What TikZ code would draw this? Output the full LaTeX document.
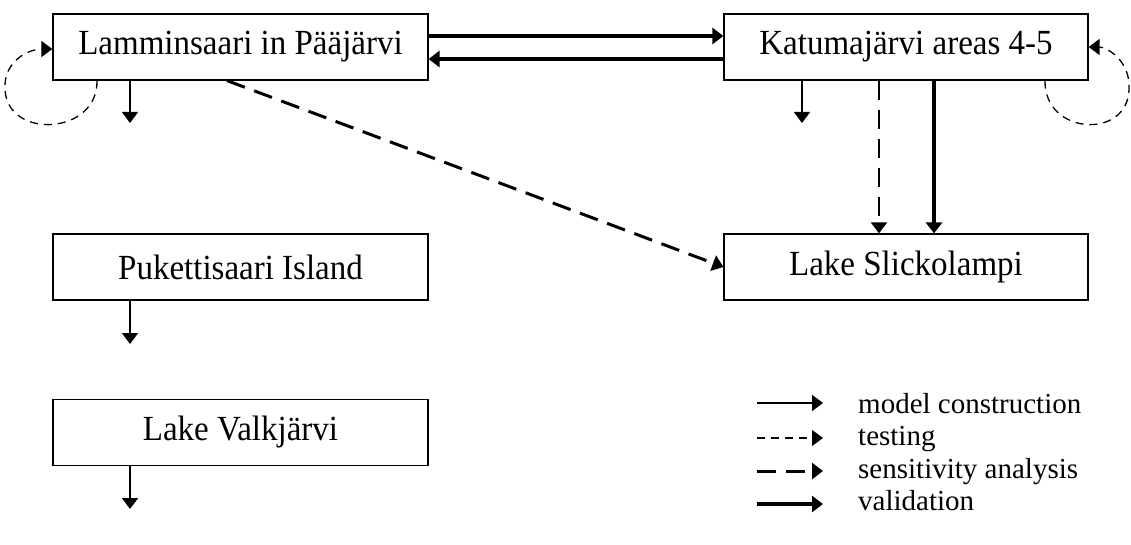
\documentclass[tikz,border=0pt]{standalone}
\usepackage{graphicx}
\usepackage{fontspec}
\setmainfont{Liberation Serif}
\usetikzlibrary{arrows.meta}
\newcommand{\tallt}[1]{\scalebox{1}[1.07]{#1}}
\begin{document}
\begin{tikzpicture}[x=1pt,y=-1pt,
  box/.style={draw,line width=1.2pt,inner sep=0pt,minimum height=66pt,font=\fontsize{33}{40}\selectfont},
  tip/.style={-{Triangle[width=16pt,length=11pt]}},
  construct/.style={tip,line width=1.5pt},
  testarrow/.style={tip,line width=1.3pt,dash pattern=on 8pt off 6pt},
  sensarrow/.style={tip,line width=3pt,dash pattern=on 19pt off 10pt},
  validarrow/.style={tip,line width=3.2pt},
  legtext/.style={anchor=base west,inner sep=0pt,font=\fontsize{29}{34}\selectfont}
]
\useasboundingbox (0,0) rectangle (1131,545);
% boxes
\node[box,minimum width=375pt] (L) at (240.5,47) {\tallt{Lamminsaari in Pääjärvi}};
\node[box,minimum width=364pt] (K) at (906,47) {\tallt{Katumajärvi areas 4-5}};
\node[box,minimum width=375pt] (P) at (240.5,267) {\tallt{Pukettisaari Island}};
\node[box,minimum width=364pt] (S) at (906,267) {\tallt{Lake Slickolampi}};
\node[box,minimum width=375pt] (V) at (240.5,432.5) {\tallt{Lake Valkjärvi}};
% free ends of down arrows
\coordinate (Ld) at (130,123);
\coordinate (Kd) at (802,123);
\coordinate (Pd) at (130,344);
\coordinate (Vd) at (130,509);
\draw[construct] (L.south -| Ld) -- (Ld);
\draw[construct] (K.south -| Kd) -- (Kd);
\draw[construct] (P.south -| Pd) -- (Pd);
\draw[construct] (V.south -| Vd) -- (Vd);
% horizontal validation arrows
\draw[validarrow] (L.east |- 0,36) -- (K.west |- 0,36);
\draw[validarrow] (K.west |- 0,59) -- (L.east |- 0,59);
% K to S
\draw[sensarrow,line width=2.2pt] (K.south -| 879,0) -- (S.north -| 879,0);
\draw[validarrow] (K.south -| 934,0) -- (S.north -| 934,0);
% L to S diagonal
\draw[sensarrow] (L.south -| 227,0) -- (S.west);
% self loops
\draw[testarrow] (L.south -| 97,0) .. controls (98,135) and (8,140) .. (5,90)
   .. controls (3,60) and (30,49) .. (L.west |- 0,49);
\draw[testarrow] (K.south -| 1045,0) .. controls (1044,135) and (1127,140) .. (1129,90)
   .. controls (1131,60) and (1106,47) .. (K.east |- 0,47);
% legend
\coordinate (a1) at (757,403); \coordinate (b1) at (823,403);
\coordinate (a2) at (757,438); \coordinate (b2) at (823,438);
\coordinate (a3) at (757,471); \coordinate (b3) at (823,471);
\coordinate (a4) at (757,504); \coordinate (b4) at (823,504);
\draw[construct] (a1) -- (b1);
\draw[testarrow] (a2) -- (b2);
\draw[sensarrow] (a3) -- (b3);
\draw[validarrow] (a4) -- (b4);
\node[legtext] (t1) at (858,413) {model construction};
\node[legtext] (t2) at (858,445) {testing};
\node[legtext] (t3) at (858,478) {sensitivity analysis};
\node[legtext] (t4) at (858,510) {validation};
\end{tikzpicture}
\end{document}
